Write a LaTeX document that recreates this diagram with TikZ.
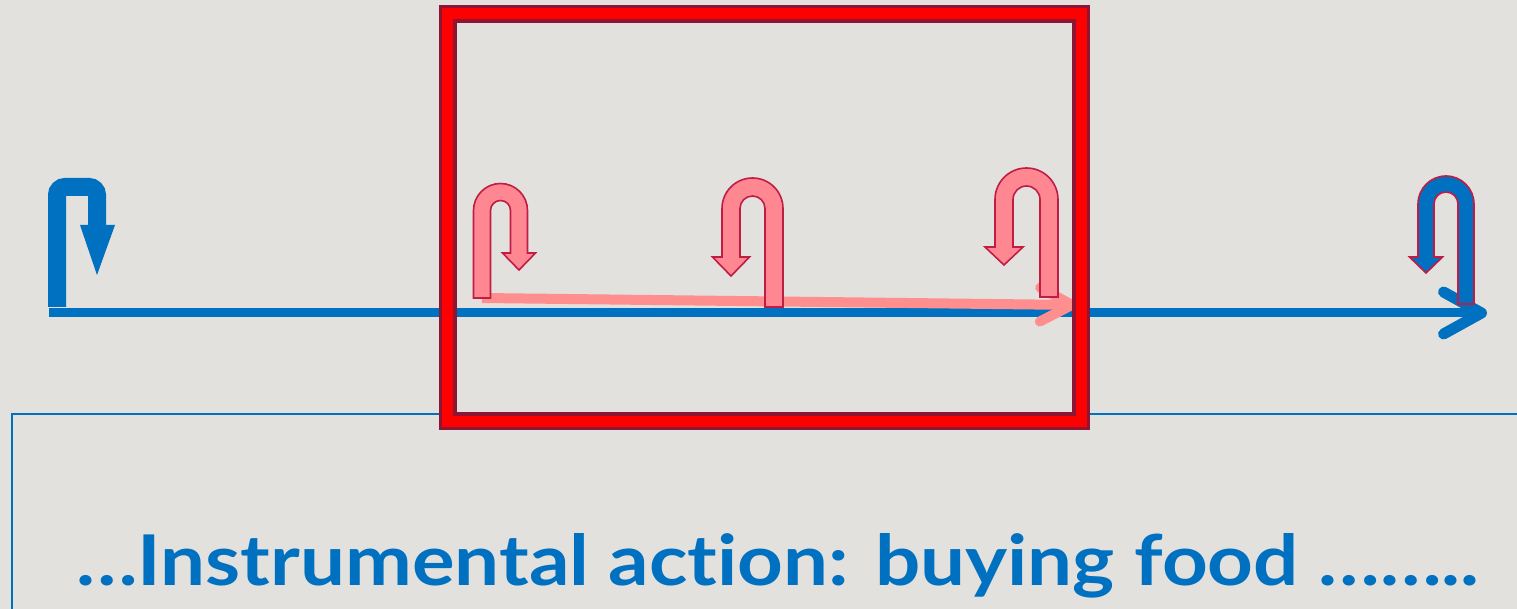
\documentclass[tikz,border=0pt]{standalone}
\usepackage{fontspec}
\setmainfont{Lato}[Ligatures=NoCommon]
\usepackage{xcolor}
\usetikzlibrary{arrows.meta}
\definecolor{Slide}{RGB}{227,225,221}
\definecolor{Cobalt}{RGB}{0,112,192}
\definecolor{Rose}{RGB}{255,135,145}
\definecolor{Crimson}{RGB}{192,28,68}
\definecolor{Salmon}{RGB}{255,143,143}
\definecolor{Wine}{RGB}{140,22,52}
\tikzset{
  timeline/.style={-{Straight Barb[round,length=19pt,width=21pt,line width=5.5pt]},line width=4.5pt,draw=Cobalt},
  drift/.style={-{Straight Barb[round,length=16pt,width=17pt,line width=5pt]},line width=5pt,draw=Salmon},
  hook/.style={line width=9pt,draw=Cobalt,rounded corners=4pt},
  pinkturn/.style={fill=Rose,draw=Crimson,line width=0.8pt},
  blueturn/.style={fill=Cobalt,draw=Crimson,line width=0.8pt},
  focusframe/.style={draw=Wine,double=red,double distance=5.5pt,line width=1.75pt,minimum width=316.75pt,minimum height=203.75pt,inner sep=0pt},
  panel/.style={draw=Cobalt,line width=0.75pt},
  caption/.style={font=\fontsize{35}{40}\selectfont\bfseries,text=Cobalt,inner sep=0pt}
}
% u-turn arrow: options, outer r, inner r, long leg end, short leg end, half head, head tip
\newcommand{\uturn}[7]{\filldraw[#1] (-#2,#4) -- (-#2,0) arc[start angle=180,end angle=360,radius=#2] -- (#2,#5) -- ({(#2+#3)/2+#6},#5) -- ({(#2+#3)/2},#7) -- ({(#2+#3)/2-#6},#5) -- (#3,#5) -- (#3,0) arc[start angle=0,end angle=-180,radius=#3] -- (-#3,#4) -- cycle;}
\begin{document}
\begin{tikzpicture}[x=0.5pt,y=-0.5pt]
\useasboundingbox (0,0) rectangle (1517,609);
\fill[Slide] (0,0) rectangle (1517,609);
\draw[panel] (12,414) rectangle (1540,640);
\coordinate (t0) at (49,313); \coordinate (t1) at (1487,313);
\coordinate (d0) at (482,298); \coordinate (d1) at (1077,305);
\draw[timeline] (t0) -- (t1);
\draw[hook] (57,307) -- (57,187) -- (97,187) -- (97,228);
\fill[Cobalt] (80,225) -- (115,225) -- (97,275) -- cycle;
\draw[drift] (d0) -- (d1);
\uturn{pinkturn,shift={(500.5,210.5)}}{27}{10}{87.5}{42.5}{16.5}{59.5}
\uturn{pinkturn,shift={(752.5,208.5)},xscale=-1}{30.5}{12.5}{98.5}{48.5}{18.5}{67.5}
\uturn{pinkturn,shift={(1026.5,199.5)},xscale=-1}{31.5}{13.5}{97.5}{47.5}{19}{65.5}
\uturn{blueturn,shift={(1446,204)},xscale=-1}{28}{12}{100}{53}{16.5}{69}
\node[focusframe] (focus) at (764.25,217.75) {};
\node[caption,anchor=base] (label) at (777.5,585) {\scalebox{1.14}[1]{…Instrumental action: buying food ……..}};
\end{tikzpicture}
\end{document}
